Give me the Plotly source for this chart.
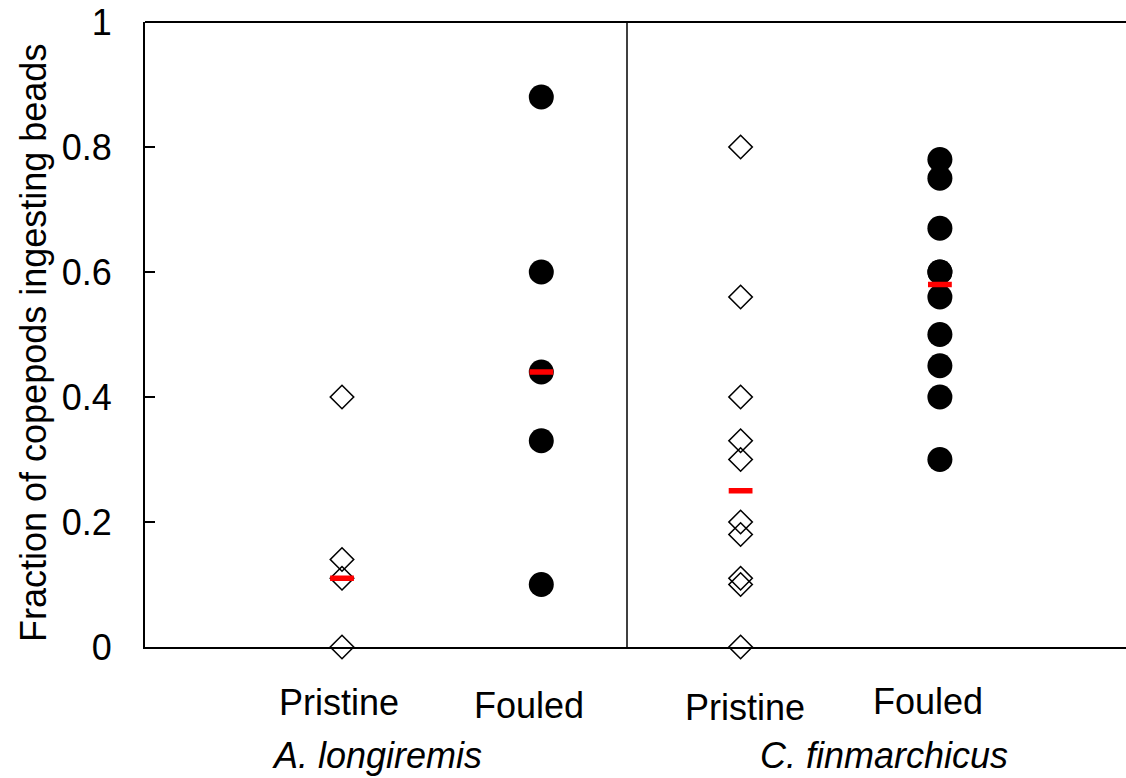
import plotly.graph_objects as go

# ---- data ----
group_pos = [1, 2, 3, 4]  # A. longiremis Pristine, Fouled, C. finmarchicus Pristine, Fouled
a_pristine = [0.40, 0.14, 0.11, 0.0]
a_fouled = [0.88, 0.60, 0.44, 0.33, 0.10]
c_pristine = [0.80, 0.56, 0.40, 0.33, 0.30, 0.20, 0.18, 0.11, 0.10, 0.0]
c_fouled = [0.78, 0.75, 0.67, 0.60, 0.60, 0.56, 0.50, 0.45, 0.40, 0.30]
medians = [0.11, 0.44, 0.25, 0.58]
treatment_labels = ["Pristine", "Fouled", "Pristine", "Fouled"]
species_labels = ["A. longiremis", "C. finmarchicus"]
y_ticks = [0, 0.2, 0.4, 0.6, 0.8, 1]
y_ticktext = ["0", "0.2", "0.4", "0.6", "0.8", "1"]
divider_x = 2.43

W, H = 1126, 778
AX_L, AX_T, AX_B = 145, 22, 647          # pixels of plot area
L, R, T, B = AX_L, 0, AX_T, H - AX_B
FONT = "Liberation Sans, Arial, sans-serif"
FS = 36

fig = go.Figure()

open_d = dict(symbol="diamond-open", size=18, color="black", line=dict(width=1.6, color="black"))
filled = dict(symbol="circle", size=25, color="black")

fig.add_trace(go.Scatter(x=[group_pos[0]] * len(a_pristine), y=a_pristine, mode="markers",
                         marker=open_d, cliponaxis=False, showlegend=False))
fig.add_trace(go.Scatter(x=[group_pos[1]] * len(a_fouled), y=a_fouled, mode="markers",
                         marker=filled, cliponaxis=False, showlegend=False))
fig.add_trace(go.Scatter(x=[group_pos[2]] * len(c_pristine), y=c_pristine, mode="markers",
                         marker=open_d, cliponaxis=False, showlegend=False))
fig.add_trace(go.Scatter(x=[group_pos[3]] * len(c_fouled), y=c_fouled, mode="markers",
                         marker=filled, cliponaxis=False, showlegend=False))
fig.add_trace(go.Scatter(x=group_pos, y=medians, mode="markers", cliponaxis=False, showlegend=False,
                         marker=dict(symbol="line-ew", size=17, color="red",
                                     line=dict(width=5.5, color="red"))))

plot_w = W - L - R
plot_h = H - T - B
px_per_unit = 199.3
x0 = 1 - (342 - AX_L) / px_per_unit
x_range = [x0, x0 + plot_w / px_per_unit]

fig.update_xaxes(range=x_range, showline=True, linecolor="black", linewidth=2,
                 showticklabels=False, ticks="", showgrid=False, zeroline=False,
                 automargin=False)
fig.update_yaxes(range=[0, 1], showline=True, linecolor="black", linewidth=2,
                 tickvals=y_ticks, ticktext=y_ticktext, ticks="inside", ticklen=10,
                 tickwidth=1.5, tickcolor="black", ticklabelstandoff=24,
                 ticklabeloverflow="allow", automargin=False,
                 tickfont=dict(family=FONT, size=FS, color="black"),
                 showgrid=False, zeroline=False)

# top border and divider
fig.add_shape(type="line", xref="paper", yref="paper", x0=0, x1=1, y0=1, y1=1,
              line=dict(color="black", width=2))
fig.add_shape(type="line", xref="x", yref="paper", x0=divider_x, x1=divider_x, y0=0, y1=1,
              line=dict(color="black", width=1.5))

def px2paper(px, py):
    return (px - AX_L) / plot_w, (AX_B - py) / plot_h

label_px = [(339, 702), (529, 705), (745, 707), (928, 701)]
for (px, py), txt in zip(label_px, treatment_labels):
    xp, yp = px2paper(px, py)
    fig.add_annotation(x=xp, y=yp, xref="paper", yref="paper", text=txt, showarrow=False,
                       xanchor="center", yanchor="middle",
                       font=dict(family=FONT, size=FS, color="black"))

species_px = [(377, 756), (884, 756)]
for (px, py), txt in zip(species_px, species_labels):
    xp, yp = px2paper(px, py)
    fig.add_annotation(x=xp, y=yp, xref="paper", yref="paper", text=f"<i>{txt}</i>",
                       showarrow=False, xanchor="center", yanchor="middle",
                       font=dict(family=FONT, size=FS, color="black"))

xp, yp = px2paper(33, 343)
fig.add_annotation(x=xp, y=yp, xref="paper", yref="paper", text="Fraction of copepods ingesting beads",
                   textangle=-90, showarrow=False, xanchor="center", yanchor="middle",
                   font=dict(family=FONT, size=FS, color="black"))

fig.update_layout(width=W, height=H, margin=dict(l=L, r=R, t=T, b=B, autoexpand=False),
                  plot_bgcolor="white", paper_bgcolor="white", showlegend=False)

fig.write_html("out.html", config={"displayModeBar": False},
               post_script="document.body.style.margin='0';document.body.style.overflow='hidden';")
